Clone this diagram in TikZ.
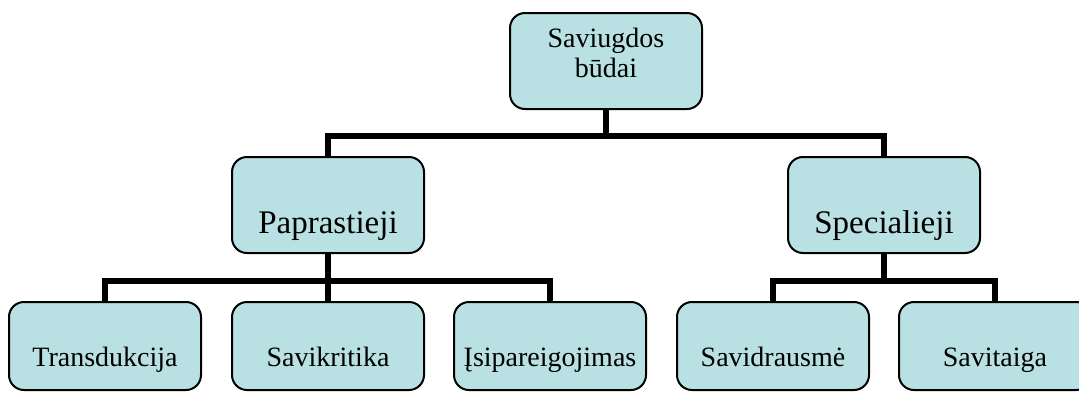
\documentclass[tikz,border=0pt]{standalone}
\usepackage{fontspec}
\setmainfont{Liberation Serif}
\definecolor{boxfill}{RGB}{185,224,227}
\begin{document}
\begin{tikzpicture}[x=1pt,y=-1pt,
  box/.style={draw=black, line width=2pt, fill=boxfill, rounded corners=15pt,
              minimum width=192pt, inner sep=0pt},
  tall/.style={box, minimum height=96pt},
  short/.style={box, minimum height=88pt},
  conn/.style={line width=6pt, line join=miter},
  toptxt/.style={font=\fontsize{28}{30}\selectfont, align=center, inner sep=0pt, anchor=north},
  midtxt/.style={font=\fontsize{33}{36}\selectfont, inner sep=0pt, anchor=base},
  lowtxt/.style={font=\fontsize{28}{30}\selectfont, inner sep=0pt, anchor=base}]
\useasboundingbox (0,0) rectangle (1079,392);
\clip (0,0) rectangle (1079,392);

% junction levels of the tree
\coordinate (j1) at (606,136);
\coordinate (j2) at (328,281);
\coordinate (j3) at (884,281);

% boxes
\node[tall] (root) at (606,61) {};
\node[tall] (p) at (328,205) {};
\node[tall] (s) at (884,205) {};
\node[short] (p1) at (105,346) {};
\node[short] (p2) at (328,346) {};
\node[short] (p3) at (550,346) {};
\node[short] (s1) at (773,346) {};
\node[short] (s2) at (995,346) {};

% box texts
\node[toptxt] (troot) at ([yshift=33pt]root.center) {Saviugdos\\būdai};
\node[midtxt] (tp) at ([yshift=-28pt]p.center) {Paprastieji};
\node[midtxt] (ts) at ([yshift=-28pt]s.center) {Specialieji};
\node[lowtxt] (tp1) at ([yshift=-20pt]p1.center) {Transdukcija};
\node[lowtxt] (tp2) at ([yshift=-20pt]p2.center) {Savikritika};
\node[lowtxt] (tp3) at ([yshift=-20pt]p3.center) {Įsipareigojimas};
\node[lowtxt] (ts1) at ([yshift=-20pt]s1.center) {Savidrausmė};
\node[lowtxt] (ts2) at ([yshift=-20pt]s2.center) {Savitaiga};

% connectors
\draw[conn] (root.south) -- (j1);
\draw[conn] (p.north) -- (p.north |- j1) -- (s.north |- j1) -- (s.north);
\draw[conn] (p.south) -- (j2);
\draw[conn] (p1.north) -- (p1.north |- j2) -- (p3.north |- j2) -- (p3.north);
\draw[conn] (p2.north) -- (p2.north |- j2);
\draw[conn] (s.south) -- (j3);
\draw[conn] (s1.north) -- (s1.north |- j3) -- (s2.north |- j3) -- (s2.north);
\end{tikzpicture}
\end{document}
